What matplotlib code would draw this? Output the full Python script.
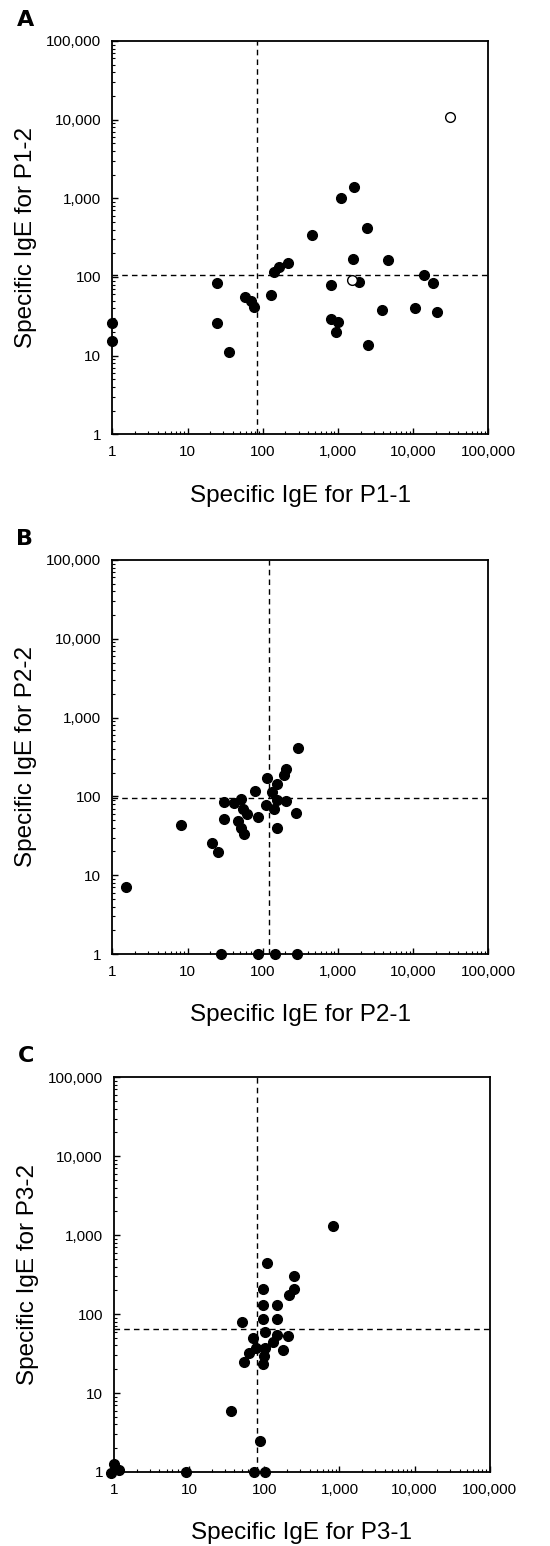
import matplotlib.pyplot as plt
from matplotlib.ticker import LogLocator, NullFormatter, FixedLocator

# tick positions and labels shared by all panels
tick_vals = [1, 10, 100, 1000, 10000, 100000]
tick_labels = ["1", "10", "100", "1,000", "10,000", "100,000"]

# panel A: P1-1 vs P1-2
a_x = [1650, 1090, 2460, 453, 217, 166, 142, 1600, 4600, 25, 1, 1, 25, 36,
       59, 69, 77, 129, 810, 1900, 800, 1000, 935, 2500, 3880, 10500, 14000,
       18600, 21000]
a_y = [1410, 1000, 425, 340, 152, 135, 117, 168, 165, 83, 26, 15.4, 26, 11,
       55, 49, 41.5, 59, 80, 86, 29, 27, 20, 13.7, 38, 40, 107, 85, 36]
a_open_x = [31000, 1550]
a_open_y = [10700, 92]
a_cut = (83, 105)

# panel B: P2-1 vs P2-2
b_x = [293, 204, 190, 113, 155, 80, 134, 155, 203, 31, 42, 52, 112, 54, 142,
       62, 276, 30.6, 87, 47.5, 51, 57, 155, 8.1, 21, 25.5, 1.5,
       28, 87, 147, 288]
b_y = [408, 220, 187, 170, 142, 118, 113, 90, 88, 85, 82, 92, 78, 70, 69,
       60, 62, 52, 54, 49, 40, 33, 40, 43, 26, 19.5, 7.0,
       1, 1, 1, 1]
b_cut = (123, 95)

# panel C: P3-1 vs P3-2
c_x = [826, 110, 245, 96, 245, 212, 96, 148, 50, 96, 147, 102, 148, 209, 71,
       132, 77, 102, 177, 63, 100, 54, 96, 35.5, 88,
       0.91, 1.0, 1.15, 9, 72, 102]
c_y = [1290, 445, 307, 208, 208, 174, 130, 130, 80, 87, 87, 60, 55, 52.5, 50,
       44, 37.5, 37, 35, 32, 29.6, 24.6, 23.3, 6.0, 2.5,
       0.97, 1.25, 1.06, 1, 1, 1]
c_cut = (81, 65)

panels = [
    ("A", a_x, a_y, a_open_x, a_open_y, a_cut, "P1-1", "P1-2",
     [0.2042, 0.7191, 0.6836, 0.2544]),
    ("B", b_x, b_y, [], [], b_cut, "P2-1", "P2-2",
     [0.2042, 0.3829, 0.6836, 0.2549]),
    ("C", c_x, c_y, [], [], c_cut, "P3-1", "P3-2",
     [0.2073, 0.0479, 0.6831, 0.2553]),
]

label_font = "Liberation Sans"

fig = plt.figure(figsize=(5.5, 15.46), dpi=100)

for letter, xs, ys, oxs, oys, cut, xname, yname, pos in panels:
    ax = fig.add_axes(pos)
    ax.set_xscale("log")
    ax.set_yscale("log")
    ax.set_xlim(1, 100000)
    ax.set_ylim(1, 100000)

    ax.axvline(cut[0], color="black", lw=1, ls=(0, (4, 3)), zorder=1)
    ax.axhline(cut[1], color="black", lw=1, ls=(0, (4, 3)), zorder=1)

    ax.plot(xs, ys, "o", color="black", ms=7, clip_on=False, zorder=3)
    if oxs:
        ax.plot(oxs, oys, "o", mfc="white", mec="black", mew=1, ms=7,
                clip_on=False, zorder=3)

    for sp in ax.spines.values():
        sp.set_linewidth(1.3)

    ax.xaxis.set_major_locator(FixedLocator(tick_vals))
    ax.yaxis.set_major_locator(FixedLocator(tick_vals))
    ax.set_xticklabels(tick_labels, fontfamily=label_font, fontsize=11)
    ax.set_yticklabels(tick_labels, fontfamily=label_font, fontsize=11)
    ax.xaxis.set_minor_locator(LogLocator(base=10, subs=range(2, 10)))
    ax.yaxis.set_minor_locator(LogLocator(base=10, subs=range(2, 10)))
    ax.xaxis.set_minor_formatter(NullFormatter())
    ax.yaxis.set_minor_formatter(NullFormatter())
    ax.tick_params(which="major", direction="in", length=4, width=1, pad=8)
    ax.tick_params(which="minor", direction="in", length=2.5, width=0.8)

    ax.set_xlabel("Specific IgE for " + xname, fontfamily=label_font,
                  fontsize=17.5)
    ax.set_ylabel("Specific IgE for " + yname, fontfamily=label_font,
                  fontsize=17.5)
    ax.xaxis.set_label_coords(0.5, -0.128)
    ax.yaxis.set_label_coords(-0.20, 0.5)

    ax.text(-0.255, 1.028, letter, transform=ax.transAxes, fontsize=16,
            fontweight="heavy", fontfamily="DejaVu Sans", ha="left",
            va="bottom")

fig.savefig("out.png", dpi=100)
